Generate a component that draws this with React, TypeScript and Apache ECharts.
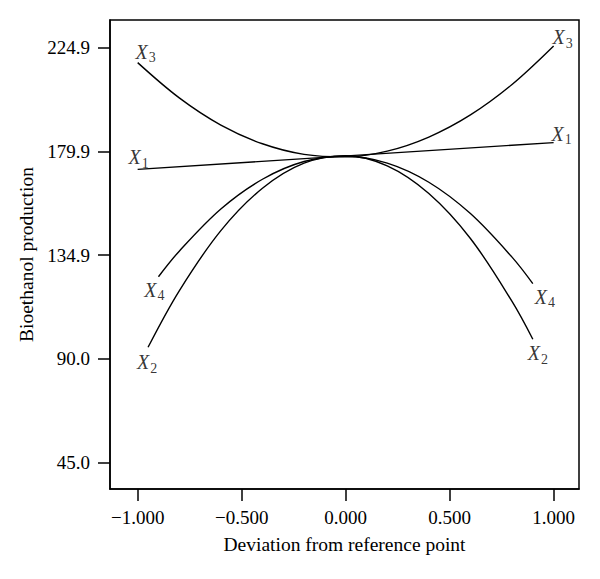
import React, { useEffect, useRef } from "react";
import * as echarts from "echarts";

// Deviation from reference point (coded units) and bioethanol production
const x1X = [-1.0, 1.0];
const x1Y = [172.1, 183.7];

const x2X = [-0.95, -0.8, -0.6, -0.4, -0.2, 0.0, 0.2, 0.4, 0.6, 0.8, 0.9];
const x2Y = [94.9, 119.4, 145.5, 163.9, 174.8, 178.0, 173.6, 161.6, 142.1, 114.8, 98.4];

const x3X = [-1.0, -0.8, -0.6, -0.4, -0.2, 0.0, 0.2, 0.4, 0.6, 0.8, 1.0];
const x3Y = [218.4, 203.1, 191.3, 183.2, 178.6, 177.5, 180.0, 186.1, 195.7, 208.9, 225.6];

const x4X = [-0.9, -0.8, -0.6, -0.4, -0.2, 0.0, 0.2, 0.4, 0.6, 0.8, 0.9];
const x4Y = [125.5, 136.6, 154.9, 167.8, 175.5, 177.8, 174.8, 166.5, 152.9, 134.0, 122.5];

const seriesNames = ["1", "2", "3", "4"];
const yTicks = [45.0, 90.0, 134.9, 179.9, 224.9];
const xTicks = [-1.0, -0.5, 0.0, 0.5, 1.0];

// label offsets [start, end] relative to curve endpoints (layout only)
const labelOffsets: number[][][] = [
  [[1, -12], [8, -9]],
  [[-1, 15], [5, 14]],
  [[8, -11], [9, -9]],
  [[-4, 13], [12, 13]],
];

const FONT = '"Liberation Serif", "Times New Roman", serif';

export default function App() {
  const ref = useRef<HTMLDivElement>(null);
  useEffect(() => {
    if (!ref.current) return;
    const chart = echarts.init(ref.current, null, { renderer: "svg" });
    const xsAll = [x1X, x2X, x3X, x4X];
    const ysAll = [x1Y, x2Y, x3Y, x4Y];

    const lineSeries = xsAll.map((xs, i) => ({
      type: "line",
      name: "X" + seriesNames[i],
      data: xs.map((x, j) => [x, ysAll[i][j]]),
      smooth: 0.35,
      showSymbol: false,
      symbol: "none",
      lineStyle: { color: "#000", width: 1.4 },
      silent: true,
    }));

    const labelData: any[] = [];
    xsAll.forEach((xs, i) => {
      const ys = ysAll[i];
      const ends = [0, xs.length - 1];
      ends.forEach((j, k) => {
        labelData.push({
          value: [xs[j], ys[j]],
          label: {
            show: true,
            position: "inside",
            formatter: "{x|X}{s|" + seriesNames[i] + "}",
            offset: labelOffsets[i][k],
          },
        });
      });
    });

    const labelSeries = {
      type: "scatter",
      data: labelData,
      symbolSize: 1,
      itemStyle: { color: "rgba(0,0,0,0)" },
      silent: true,
      label: {
        show: true,
        align: "center",
        verticalAlign: "middle",
        rich: {
          x: { fontFamily: FONT, fontStyle: "italic", fontSize: 20, color: "#000" },
          s: { fontFamily: FONT, fontSize: 14, color: "#000", padding: [12, 0, 0, 1] },
        },
      },
    };

    chart.setOption({
      animation: false,
      backgroundColor: "#fff",
      grid: {
        left: 110,
        top: 20,
        right: 21,
        bottom: 90,
        show: true,
        borderColor: "#000",
        borderWidth: 1.5,
        backgroundColor: "transparent",
      },
      xAxis: {
        type: "value",
        min: -1.133,
        max: 1.122,
        name: "Deviation from reference point",
        nameLocation: "middle",
        nameGap: 45,
        nameTextStyle: { fontFamily: FONT, fontSize: 19.5, color: "#000" },
        axisLine: { show: true, onZero: false, lineStyle: { color: "#000", width: 1.5 } },
        axisTick: {
          show: true,
          inside: false,
          length: 12,
          lineStyle: { color: "#000", width: 1.5 },
          customValues: xTicks,
        },
        axisLabel: {
          customValues: xTicks,
          margin: 19,
          fontFamily: FONT,
          fontSize: 19,
          color: "#000",
          formatter: (v: number) => (v < 0 ? "\u2212" : "") + Math.abs(v).toFixed(3),
        },
        splitLine: { show: false },
      },
      yAxis: {
        type: "value",
        min: 33.4,
        max: 236.9,
        name: "Bioethanol production",
        nameLocation: "middle",
        nameGap: 67,
        nameTextStyle: { fontFamily: FONT, fontSize: 19.5, color: "#000" },
        axisLine: { show: true, onZero: false, lineStyle: { color: "#000", width: 1.5 } },
        axisTick: {
          show: true,
          inside: false,
          length: 12,
          lineStyle: { color: "#000", width: 1.5 },
          customValues: yTicks,
        },
        axisLabel: {
          customValues: yTicks,
          margin: 20,
          fontFamily: FONT,
          fontSize: 19,
          color: "#000",
          formatter: (v: number) => v.toFixed(1),
        },
        splitLine: { show: false },
      },
      series: [...lineSeries, labelSeries],
    });
    return () => chart.dispose();
  }, []);
  return (
    <div
      ref={ref}
      style={{ position: "fixed", left: 0, top: 0, width: 600, height: 579, background: "#fff" }}
    />
  );
}
